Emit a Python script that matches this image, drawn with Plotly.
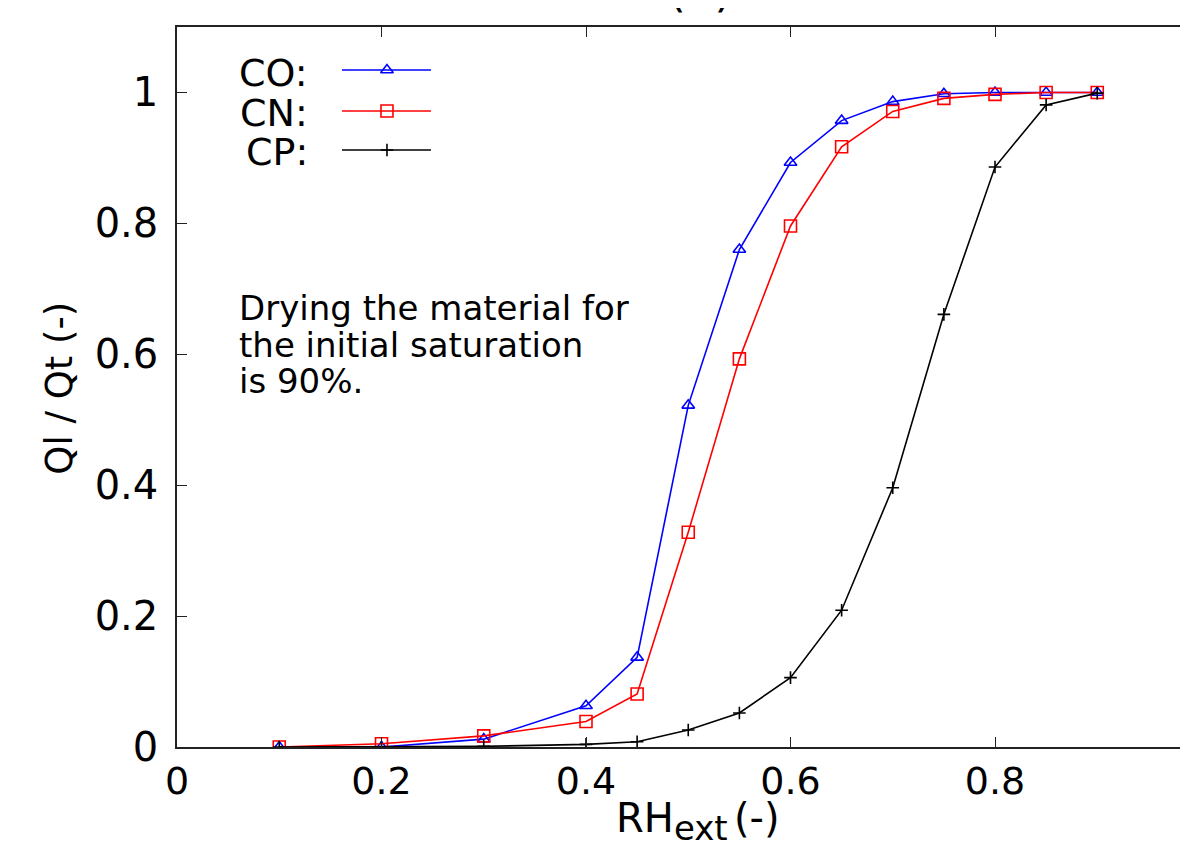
import plotly.graph_objects as go

# ---- data ----
rh = [0.1, 0.2, 0.3, 0.4, 0.45, 0.5, 0.55, 0.6, 0.65, 0.7, 0.75, 0.8, 0.85, 0.9]
co = [0.0, 0.0, 0.012, 0.063, 0.137, 0.522, 0.760, 0.893, 0.957, 0.986, 0.998, 1.0, 1.0, 1.0]
cn = [0.0, 0.005, 0.017, 0.039, 0.081, 0.328, 0.593, 0.796, 0.917, 0.971, 0.991, 0.997, 1.0, 1.0]
cp = [0.0, 0.0, 0.001, 0.004, 0.008, 0.026, 0.052, 0.106, 0.209, 0.396, 0.661, 0.886, 0.981, 0.999]

series_names = ["CO:", "CN:", "CP:"]
x_tickvals = [0, 0.2, 0.4, 0.6, 0.8]
x_ticktext = ["0", "0.2", "0.4", "0.6", "0.8"]
y_tickvals = [0, 0.2, 0.4, 0.6, 0.8, 1.0]
y_ticktext = ["0", "0.2", "0.4", "0.6", "0.8", "1"]
note_lines = ["Drying the material for", "the initial saturation", "is 90%."]

FONT = "DejaVu Sans"
BLUE, RED, BLACK = "#0000ff", "#ff0000", "#000000"
AXC = "#222222"

styles = [
    dict(color=BLUE, symbol="triangle-up-open", size=11),
    dict(color=RED, symbol="square-open", size=12),
    dict(color=BLACK, symbol="cross-thin-open", size=9),
]

fig = go.Figure()
for ys, st in zip([co, cn, cp], styles):
    fig.add_trace(go.Scatter(
        x=rh, y=ys, mode="lines+markers",
        line=dict(color=st["color"], width=1.6),
        marker=dict(symbol=st["symbol"], size=st["size"], color=st["color"],
                    line=dict(color=st["color"], width=1.6)),
        showlegend=False, hoverinfo="skip"))

# legend samples on an overlay axis in [0,1] plot-fraction units
leg_x0, leg_xm, leg_x1 = 0.1632, 0.2077, 0.2512
leg_y = [0.9403, 0.8833, 0.8292]
leg_label_y = [0.9368, 0.8806, 0.8257]
for ly, st in zip(leg_y, styles):
    fig.add_trace(go.Scatter(x=[leg_x0, leg_x1], y=[ly, ly], mode="lines",
                             line=dict(color=st["color"], width=1.6),
                             xaxis="x2", yaxis="y2", showlegend=False, hoverinfo="skip"))
    fig.add_trace(go.Scatter(x=[leg_xm], y=[ly], mode="markers",
                             marker=dict(symbol=st["symbol"], size=st["size"], color=st["color"],
                                         line=dict(color=st["color"], width=1.6)),
                             xaxis="x2", yaxis="y2", showlegend=False, hoverinfo="skip"))

annotations = []
for name, ly in zip(series_names, leg_label_y):
    annotations.append(dict(text=name, x=0.1316, y=ly, xref="paper", yref="paper",
                            xanchor="right", yanchor="middle", showarrow=False,
                            font=dict(family=FONT, size=38, color="black")))
for line, ly in zip(note_lines, [0.6103, 0.5589, 0.5089]):
    annotations.append(dict(text=line, x=0.0593, y=ly, xref="paper", yref="paper",
                            xanchor="left", yanchor="middle", showarrow=False,
                            font=dict(family=FONT, size=34, color="black")))
# axis titles
annotations.append(dict(text="RH<sub><span style='font-size:34px'>ext</span></sub><span style='font-size:20px'> </span>(-)",
                        x=0.5153, y=-0.104, xref="paper", yref="paper",
                        xanchor="center", yanchor="middle", showarrow=False,
                        font=dict(family=FONT, size=40, color="black")))
annotations.append(dict(text="Ql / Qt (-)", x=-0.117, y=0.4986, xref="paper", yref="paper",
                        xanchor="center", yanchor="middle", textangle=-90, showarrow=False,
                        font=dict(family=FONT, size=37, color="black")))
# partially clipped panel title
annotations.append(dict(text="(a)", x=0.5173, y=1.0, xref="paper", yref="paper",
                        xanchor="center", yanchor="bottom", yshift=8, showarrow=False,
                        font=dict(family=FONT, size=46, color="black")))

fig.update_layout(
    width=1180, height=846,
    margin=dict(l=169, r=0, t=19, b=107),
    paper_bgcolor="white", plot_bgcolor="white",
    showlegend=False,
    annotations=annotations,
    xaxis=dict(range=[0, 0.98875], tickvals=x_tickvals, ticktext=x_ticktext,
               ticks="inside", ticklen=10, tickwidth=1.2, tickcolor=AXC,
               showline=True, linecolor=AXC, linewidth=1.5, mirror="ticks",
               showgrid=False, zeroline=False, ticklabelstandoff=0,
               tickfont=dict(family=FONT, size=38, color="black")),
    yaxis=dict(range=[0, 1.1], tickvals=y_tickvals, ticktext=y_ticktext,
               ticks="inside", ticklen=10, tickwidth=1.2, tickcolor=AXC,
               showline=True, linecolor=AXC, linewidth=1.5, mirror=False,
               showgrid=False, zeroline=False, ticklabelstandoff=9,
               tickfont=dict(family=FONT, size=40, color="black")),
    xaxis2=dict(range=[0, 1], domain=[0, 1], overlaying="x", anchor="y2", visible=False),
    yaxis2=dict(range=[0, 1], domain=[0, 1], overlaying="y", anchor="x2", visible=False),
)

fig.write_html("out.html")
